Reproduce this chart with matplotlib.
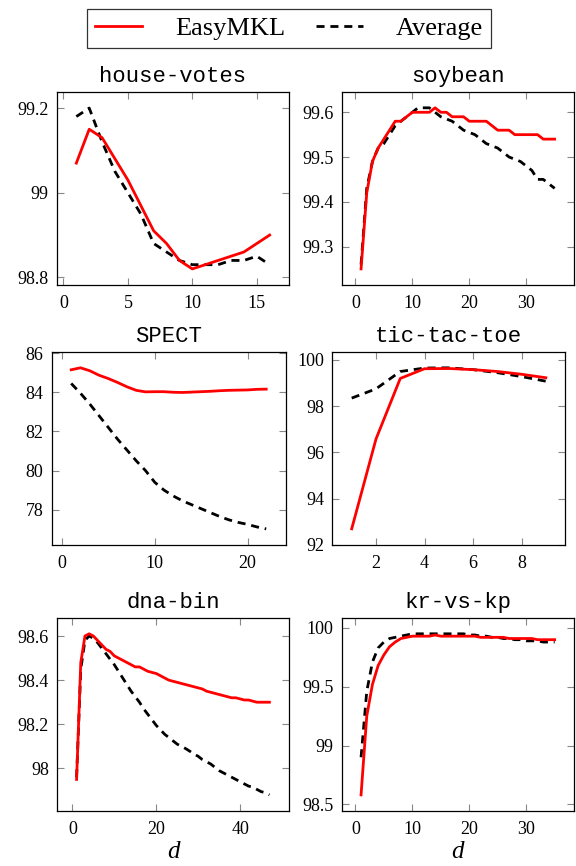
import numpy as np
import matplotlib
matplotlib.use('Agg')
from matplotlib import pyplot as plt
from matplotlib.lines import Line2D
from matplotlib.ticker import FuncFormatter

# house-votes
hv_x = list(range(1, 17))
hv_easy = [99.07, 99.15, 99.13, 99.08, 99.03, 98.97, 98.91, 98.88, 98.84, 98.82,
           98.83, 98.84, 98.85, 98.86, 98.88, 98.90]
hv_avg = [99.18, 99.20, 99.12, 99.05, 99.00, 98.95, 98.88, 98.86, 98.84, 98.83,
          98.83, 98.83, 98.84, 98.84, 98.85, 98.83]

# soybean
soy_x = list(range(1, 36))
soy_easy = [99.25, 99.42, 99.49, 99.52, 99.54, 99.56, 99.58, 99.58, 99.59, 99.60,
            99.60, 99.60, 99.60, 99.61, 99.60, 99.60, 99.59, 99.59, 99.59, 99.58,
            99.58, 99.58, 99.58, 99.57, 99.56, 99.56, 99.56, 99.55, 99.55, 99.55,
            99.55, 99.55, 99.54, 99.54, 99.54]
soy_avg = [99.26, 99.43, 99.49, 99.52, 99.53, 99.55, 99.57, 99.58, 99.59, 99.60,
           99.61, 99.61, 99.61, 99.60, 99.59, 99.585, 99.58, 99.57, 99.56, 99.555,
           99.55, 99.54, 99.53, 99.525, 99.52, 99.51, 99.50, 99.495, 99.49, 99.48,
           99.47, 99.45, 99.45, 99.44, 99.43]

# SPECT
sp_x = list(range(1, 23))
sp_easy = [85.15, 85.25, 85.10, 84.87, 84.70, 84.50, 84.28, 84.10, 84.02, 84.03,
           84.03, 84.00, 83.99, 84.01, 84.03, 84.05, 84.08, 84.10, 84.11, 84.12,
           84.15, 84.16]
sp_avg = [84.45, 83.95, 83.40, 82.80, 82.20, 81.60, 81.05, 80.50, 80.00, 79.40,
          79.00, 78.70, 78.45, 78.25, 78.05, 77.85, 77.65, 77.48, 77.35, 77.25,
          77.12, 77.02]

# tic-tac-toe
ttt_x = list(range(1, 10))
ttt_easy = [92.70, 96.58, 99.20, 99.62, 99.63, 99.58, 99.50, 99.38, 99.23]
ttt_avg = [98.35, 98.75, 99.50, 99.65, 99.66, 99.58, 99.45, 99.28, 99.08]

# dna-bin
dna_x = list(range(1, 48))
dna_easy = [97.95, 98.48, 98.60, 98.61, 98.60, 98.58, 98.56, 98.54, 98.53, 98.51,
            98.50, 98.49, 98.48, 98.47, 98.46, 98.46, 98.45, 98.44, 98.435, 98.43,
            98.42, 98.41, 98.40, 98.395, 98.39, 98.385, 98.38, 98.375, 98.37, 98.365,
            98.36, 98.35, 98.345, 98.34, 98.335, 98.33, 98.325, 98.32, 98.32, 98.315,
            98.31, 98.31, 98.305, 98.30, 98.30, 98.30, 98.30]
dna_avg = [97.96, 98.45, 98.58, 98.60, 98.59, 98.57, 98.545, 98.52, 98.495, 98.47,
           98.44, 98.41, 98.38, 98.35, 98.325, 98.30, 98.27, 98.245, 98.22, 98.195,
           98.175, 98.155, 98.14, 98.125, 98.11, 98.10, 98.09, 98.078, 98.065, 98.055,
           98.04, 98.03, 98.02, 98.005, 97.99, 97.98, 97.97, 97.96, 97.95, 97.94,
           97.93, 97.92, 97.915, 97.905, 97.895, 97.89, 97.88]

# kr-vs-kp
kr_x = list(range(1, 36))
kr_easy = [98.58, 99.25, 99.52, 99.68, 99.77, 99.84, 99.88, 99.91, 99.92, 99.93,
           99.93, 99.93, 99.93, 99.94, 99.93, 99.93, 99.93, 99.93, 99.93, 99.93,
           99.93, 99.92, 99.92, 99.92, 99.92, 99.92, 99.91, 99.91, 99.91, 99.91,
           99.91, 99.90, 99.90, 99.90, 99.90]
kr_avg = [98.90, 99.46, 99.71, 99.83, 99.88, 99.91, 99.92, 99.93, 99.94, 99.95,
          99.95, 99.95, 99.95, 99.95, 99.95, 99.95, 99.95, 99.95, 99.95, 99.94,
          99.94, 99.93, 99.93, 99.92, 99.92, 99.91, 99.91, 99.90, 99.90, 99.89,
          99.89, 99.89, 99.88, 99.88, 99.88]

panels = [
    ('house-votes', hv_x, hv_easy, hv_avg, [0, 5, 10, 15], [98.8, 99, 99.2]),
    ('soybean', soy_x, soy_easy, soy_avg, [0, 10, 20, 30], [99.3, 99.4, 99.5, 99.6]),
    ('SPECT', sp_x, sp_easy, sp_avg, [0, 10, 20], [78, 80, 82, 84, 86]),
    ('tic-tac-toe', ttt_x, ttt_easy, ttt_avg, [2, 4, 6, 8], [92, 94, 96, 98, 100]),
    ('dna-bin', dna_x, dna_easy, dna_avg, [0, 20, 40], [98, 98.2, 98.4, 98.6]),
    ('kr-vs-kp', kr_x, kr_easy, kr_avg, [0, 10, 20, 30], [98.5, 99, 99.5, 100]),
]

# axes boxes in pixels (left, top, right, bottom)
boxes = [
    (57, 92, 289, 285), (341.7, 91.7, 574, 285),
    (51.7, 351.7, 285.7, 545), (332.3, 351.7, 565.3, 545),
    (57.3, 617.7, 288.7, 811), (341.7, 617.7, 574, 811),
]

plt.rcParams['font.family'] = ['Liberation Serif', 'DejaVu Serif']

W, H = 576, 866
fig = plt.figure(figsize=(W / 100, H / 100), dpi=100)

mono = 'Liberation Mono'
dash = (2.9, 2.1)
fmt = FuncFormatter(lambda v, p: '%g' % round(v, 6))

axes = []
for (title, x, easy, avg, xt, yt), (l, t, r, b) in zip(panels, boxes):
    ax = fig.add_axes([l / W, 1 - b / H, (r - l) / W, (b - t) / H])
    ax.plot(x, avg, color='black', linewidth=2.0, dashes=dash)
    ax.plot(x, easy, color='red', linewidth=2.0)
    # pgfplots-style 10% enlargement of limits
    xr = max(x) - min(x)
    ax.set_xlim(min(x) - 0.1 * xr, max(x) + 0.1 * xr)
    ymin = min(min(easy), min(avg))
    ymax = max(max(easy), max(avg))
    yr = ymax - ymin
    ax.set_ylim(ymin - 0.1 * yr, ymax + 0.1 * yr)
    ax.set_xticks(xt)
    ax.set_yticks(yt)
    ax.xaxis.set_major_formatter(fmt)
    ax.yaxis.set_major_formatter(fmt)
    ax.tick_params(direction='in', top=True, right=True, length=5, width=0.8,
                   color='#888888', labelsize=13)
    ax.tick_params(axis='x', pad=7)
    ax.tick_params(axis='y', pad=6)
    for sp in ax.spines.values():
        sp.set_linewidth(0.9)
    ax.set_title(title, fontfamily=mono, fontsize=16, pad=7)
    axes.append(ax)

for ax in axes[4:]:
    ax.set_xlabel('d', fontstyle='italic', fontsize=18, labelpad=2)

handles = [Line2D([], [], color='red', linewidth=2.0),
           Line2D([], [], color='black', linewidth=2.0, dashes=dash)]
leg = fig.legend(handles, ['EasyMKL', 'Average'], loc='center', ncol=2,
                 bbox_to_anchor=(289 / W, 1 - 28.3 / H), frameon=True, fancybox=False,
                 edgecolor='black', handlelength=1.8, handletextpad=1.25,
                 columnspacing=1.15, borderpad=0.3, borderaxespad=0.0,
                 prop={'size': 19})
leg.get_frame().set_linewidth(0.9)

fig.savefig('out.png', dpi=100)
